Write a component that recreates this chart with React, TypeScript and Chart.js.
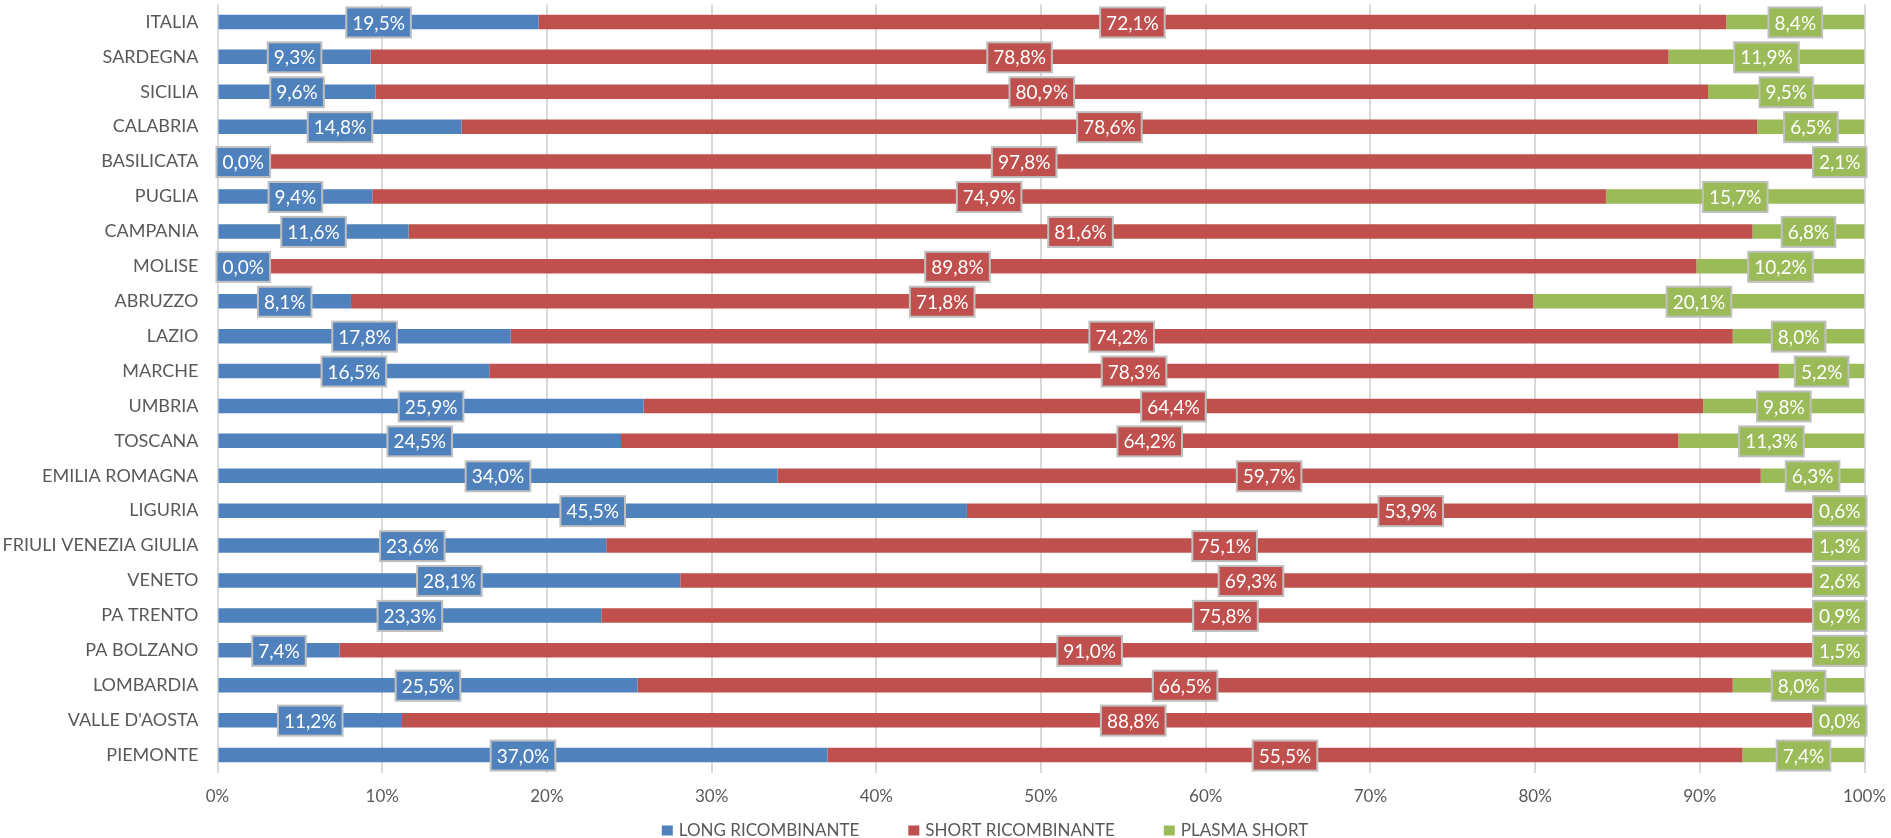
import React, { useEffect, useRef } from "react";
import { Chart, registerables } from "chart.js";

Chart.register(...registerables);

const categories = [
  "ITALIA", "SARDEGNA", "SICILIA", "CALABRIA", "BASILICATA", "PUGLIA", "CAMPANIA",
  "MOLISE", "ABRUZZO", "LAZIO", "MARCHE", "UMBRIA", "TOSCANA", "EMILIA ROMAGNA",
  "LIGURIA", "FRIULI VENEZIA GIULIA", "VENETO", "PA TRENTO", "PA BOLZANO",
  "LOMBARDIA", "VALLE D'AOSTA", "PIEMONTE",
];

const longRicombinante = [
  19.5, 9.3, 9.6, 14.8, 0.0, 9.4, 11.6, 0.0, 8.1, 17.8, 16.5, 25.9, 24.5, 34.0,
  45.5, 23.6, 28.1, 23.3, 7.4, 25.5, 11.2, 37.0,
];
const shortRicombinante = [
  72.1, 78.8, 80.9, 78.6, 97.8, 74.9, 81.6, 89.8, 71.8, 74.2, 78.3, 64.4, 64.2, 59.7,
  53.9, 75.1, 69.3, 75.8, 91.0, 66.5, 88.8, 55.5,
];
const plasmaShort = [
  8.4, 11.9, 9.5, 6.5, 2.1, 15.7, 6.8, 10.2, 20.1, 8.0, 5.2, 9.8, 11.3, 6.3,
  0.6, 1.3, 2.6, 0.9, 1.5, 8.0, 0.0, 7.4,
];

const seriesNames = ["LONG RICOMBINANTE", "SHORT RICOMBINANTE", "PLASMA SHORT"];
const seriesColors = ["#4F81BD", "#C0504D", "#9BBB59"];
const xTicks = [0, 10, 20, 30, 40, 50, 60, 70, 80, 90, 100];

const rawSeries = [longRicombinante, shortRicombinante, plasmaShort];
const totals = categories.map((_, i) => rawSeries.reduce((s, arr) => s + arr[i], 0));
const normalized = rawSeries.map((arr) => arr.map((v, i) => (v / totals[i]) * 100));

const FONT = "Lato";
const TEXT_COLOR = "#595959";

const fmt = (v: number) => v.toFixed(1).replace(".", ",") + "%";

const boxLabelPlugin = {
  id: "boxLabels",
  afterDatasetsDraw(chart: any) {
    const ctx = chart.ctx;
    const area = chart.chartArea;
    ctx.save();
    ctx.font = `19px ${FONT}`;
    ctx.textAlign = "center";
    ctx.textBaseline = "middle";
    chart.data.datasets.forEach((ds: any, di: number) => {
      const meta = chart.getDatasetMeta(di);
      meta.data.forEach((bar: any, i: number) => {
        const { x, y, base } = bar.getProps(["x", "y", "base"], true);
        const text = fmt(rawSeries[di][i]);
        const tw = ctx.measureText(text).width;
        const w = tw + 12;
        const h = 30;
        let left = (x + base) / 2 - w / 2;
        if (left < area.left - 1) left = area.left - 1;
        if (left + w > area.right + 2) left = area.right + 2 - w;
        const top = y - h / 2 + 0.5;
        ctx.fillStyle = seriesColors[di];
        ctx.fillRect(left, top, w, h);
        ctx.strokeStyle = "#BFBFBF";
        ctx.lineWidth = 2;
        ctx.strokeRect(left, top, w, h);
        ctx.fillStyle = "#FFFFFF";
        ctx.fillText(text, left + w / 2, y + 1.5);
      });
    });
    ctx.restore();
  },
};

const legendPlugin = {
  id: "customLegend",
  afterDraw(chart: any) {
    const ctx = chart.ctx;
    ctx.save();
    ctx.font = `17px ${FONT}`;
    ctx.textBaseline = "middle";
    ctx.textAlign = "left";
    const sq = 11;
    const gapText = 6;
    const gapItem = 49;
    const widths = seriesNames.map((n) => sq + gapText + ctx.measureText(n).width);
    const total = widths.reduce((a, b) => a + b, 0) + gapItem * (widths.length - 1);
    const centerX = 985;
    const cy = 830;
    let x = centerX - total / 2;
    seriesNames.forEach((n, i) => {
      ctx.fillStyle = seriesColors[i];
      ctx.fillRect(x, cy - 4.5, sq, 10);
      ctx.fillStyle = TEXT_COLOR;
      ctx.fillText(n, x + sq + gapText, cy + 1);
      x += widths[i] + gapItem;
    });
    ctx.restore();
  },
};

export default function App() {
  const canvasRef = useRef<HTMLCanvasElement>(null);

  useEffect(() => {
    if (!canvasRef.current) return;
    const chart = new Chart(canvasRef.current, {
      type: "bar",
      data: {
        labels: categories,
        datasets: normalized.map((arr, i) => ({
          label: seriesNames[i],
          data: arr,
          backgroundColor: seriesColors[i],
          borderWidth: 0,
          categoryPercentage: 1,
          barPercentage: 0.415,
        })),
      },
      options: {
        indexAxis: "y",
        responsive: false,
        animation: false,
        layout: { padding: { top: 4.5, right: 26.5, bottom: 0, left: 0 } },
        plugins: {
          legend: { display: false },
          tooltip: { enabled: false },
        },
        scales: {
          x: {
            type: "linear",
            stacked: true,
            min: 0,
            max: 100,
            afterBuildTicks: (scale: any) => {
              scale.ticks = xTicks.map((v) => ({ value: v }));
            },
            ticks: {
              callback: (v: any) => v + "%",
              font: { family: FONT, size: 17 },
              color: TEXT_COLOR,
              padding: 14,
            },
            grid: { color: "#D9D9D9", lineWidth: 2, drawTicks: false, tickLength: 0 },
            border: { display: false },
            afterFit: (scale: any) => {
              scale.height = 65.5;
              scale.paddingLeft = 0;
              scale.paddingRight = 0;
            },
          },
          y: {
            stacked: true,
            grid: { display: false, drawTicks: false, tickLength: 0 },
            border: { display: false },
            ticks: {
              font: { family: FONT, size: 18 },
              color: TEXT_COLOR,
              padding: 19,
            },
            afterFit: (scale: any) => {
              scale.width = 217.5;
              scale.paddingTop = 0;
              scale.paddingBottom = 0;
            },
          },
        },
      },
      plugins: [boxLabelPlugin, legendPlugin],
    } as any);
    return () => chart.destroy();
  }, []);

  return (
    <div style={{ position: "absolute", left: 0, top: 0, width: 1891, height: 838, background: "#fff" }}>
      <canvas ref={canvasRef} width={1891} height={838} style={{ display: "block" }} />
    </div>
  );
}
